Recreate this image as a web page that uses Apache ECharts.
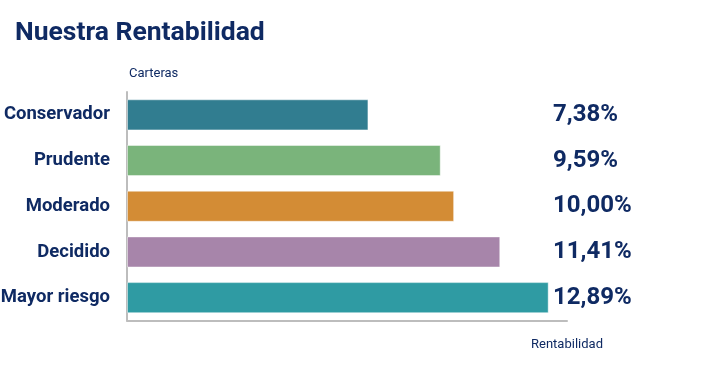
<!DOCTYPE html>
<html>
<head>
<meta charset="utf-8">
<script src="https://cdn.jsdelivr.net/npm/echarts@6/dist/echarts.min.js"></script>
<style>
html,body{margin:0;padding:0;background:#fff;}
#c{width:706px;height:381px;}
</style>
</head>
<body>
<div id="c"></div>
<script>
var categories = ['Conservador', 'Prudente', 'Moderado', 'Decidido', 'Mayor riesgo'];
var values = [7.38, 9.59, 10.00, 11.41, 12.89];
var valueLabels = ['7,38%', '9,59%', '10,00%', '11,41%', '12,89%'];
var barColors = ['#317d90', '#7ab47b', '#d38c35', '#a785aa', '#2f9ba3'];

var navy = '#0f2a63';
var chart = echarts.init(document.getElementById('c'));
chart.setOption({
  animation: false,
  backgroundColor: '#fff',
  title: {
    text: 'Nuestra Rentabilidad',
    left: 10, top: 15,
    textStyle: { fontFamily: 'Roboto', fontWeight: 'bold', fontSize: 26.5, color: navy }
  },
  grid: { left: 127, right: 139, top: 92, bottom: 60.5, containLabel: false, outerBoundsMode: 'none' },
  xAxis: {
    type: 'value', min: 0, max: 13.45,
    name: 'Rentabilidad', nameLocation: 'end',
    nameGap: 0,
    nameTextStyle: { fontFamily: 'Roboto', fontSize: 13, color: navy, align: 'center', verticalAlign: 'top', padding: [18, 0, 0, 0] },
    axisLine: { show: true, lineStyle: { color: '#bdbdbd', width: 2 } },
    axisTick: { show: false },
    axisLabel: { show: false },
    splitLine: { show: false }
  },
  yAxis: [{
    type: 'category', data: categories, inverse: true,
    name: 'Carteras', nameLocation: 'start', nameGap: 12,
    nameTextStyle: { fontFamily: 'Roboto', fontSize: 13, color: navy, align: 'left', padding: [0, 0, 0, 2] },
    axisLine: { show: true, lineStyle: { color: '#bdbdbd', width: 2 } },
    axisTick: { show: false },
    axisLabel: { margin: 17, padding: [4, 0, 0, 0], fontFamily: 'Roboto', fontWeight: 'bold', fontSize: 18.5, color: navy }
  }, {
    type: 'category', data: valueLabels, inverse: true, position: 'right',
    axisLine: { show: false }, axisTick: { show: false },
    axisLabel: { margin: -14, padding: [4, 0, 0, 0], align: 'left', fontFamily: 'Roboto', fontWeight: 'bold', fontSize: 24, color: navy }
  }],
  series: [{
    type: 'bar',
    data: values.map(function (v, i) { return { value: v, itemStyle: { color: barColors[i] } }; }),
    barCategoryGap: '32%',
    itemStyle: { borderColor: 'rgba(255,255,255,0.45)', borderWidth: 1 }
  }]
});
</script>
</body>
</html>
